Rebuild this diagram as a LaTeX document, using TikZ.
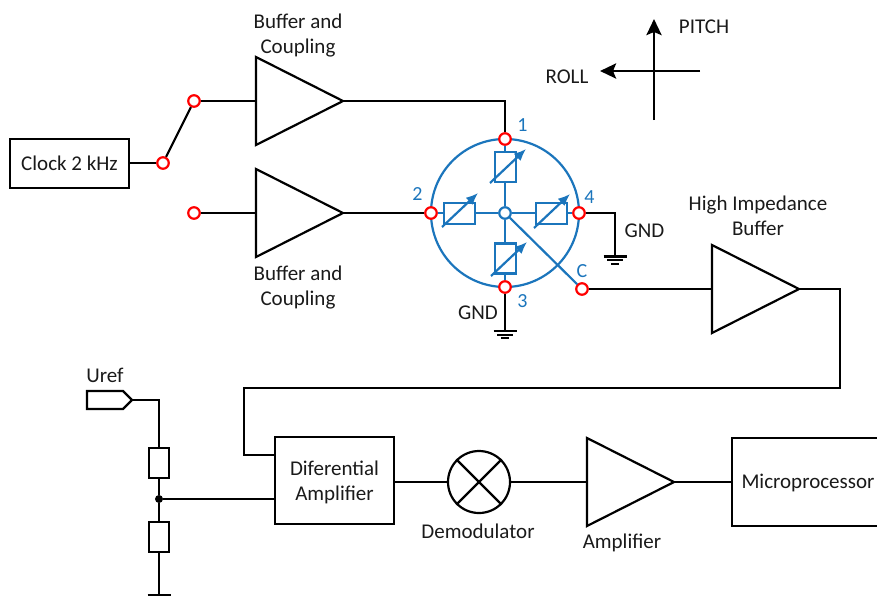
\documentclass[tikz,border=0pt]{standalone}
\usepackage{fontspec}
\setmainfont{Carlito}
\usetikzlibrary{arrows.meta}
\definecolor{sens}{HTML}{1B75BC}
\definecolor{txt}{HTML}{1A1A1A}
\tikzset{
  x=1pt,y=-1pt,
  wire/.style={draw=black,line width=2.2pt,line join=miter},
  swire/.style={draw=sens,line width=2.2pt},
  block/.style={draw=black,line width=2.2pt,fill=white,inner sep=0pt,rectangle,align=center,text=txt,font=\fontsize{21}{25}\selectfont},
  amptri/.style={draw=black,line width=2.2pt,fill=white,line join=miter},
  label/.style={inner sep=0pt,text=txt,align=center,font=\fontsize{21}{25}\selectfont},
  num/.style={inner sep=0pt,text=sens,font=\fontsize{20}{22}\selectfont},
  term/.style={circle,draw=red,fill=white,line width=2.2pt,inner sep=0pt,minimum size=11.5pt},
  cterm/.style={circle,draw=sens,fill=white,line width=2.2pt,inner sep=0pt,minimum size=11.5pt},
  res/.style={draw=black,line width=2.2pt,fill=white,inner sep=0pt,rectangle,minimum width=20pt,minimum height=30pt},
  sres/.style={draw=sens,line width=2.2pt,fill=white,inner sep=0pt,rectangle},
  varr/.style={draw=sens,line width=2.2pt,-{Latex[length=12pt,width=10pt]}},
  compass/.style={draw=black,line width=2.8pt,-{Stealth[length=16pt,width=15pt,inset=3pt]}},
  dot/.style={circle,fill=black,inner sep=0pt,minimum size=8pt},
}
% \ampl{name}{x of the input side}{y of the axis}
\newcommand{\ampl}[3]{%
  \draw[amptri] (#2,#3-44) -- (#2,#3+44) -- (#2+87,#3) -- cycle;
  \coordinate (#1in) at (#2,#3);
  \coordinate (#1out) at (#2+87,#3);
}
\newcommand{\gndsym}[1]{%
  \draw[wire] ([xshift=-11.5pt]#1) -- ([xshift=11.5pt]#1);
  \draw[wire] ([xshift=-8pt,yshift=-3.6pt]#1) -- ([xshift=8pt,yshift=-3.6pt]#1);
  \draw[wire] ([xshift=-4pt,yshift=-7.2pt]#1) -- ([xshift=4pt,yshift=-7.2pt]#1);
}
\begin{document}
\begin{tikzpicture}
\useasboundingbox (0,0) rectangle (877,598);

% clock and switch
\node[block,minimum width=119pt,minimum height=49pt] (clock) at (69.5,163.5) {Clock 2 kHz};
\node[term] (sw) at (163,163) {};
\node[term] (up) at (194,101) {};
\node[term] (lo) at (194,213) {};
\draw[wire] (clock.east |- sw) -- (sw);
\draw[wire] (sw) -- (up);

% buffers
\ampl{ba}{256}{101}
\ampl{bb}{256}{213}
\ampl{bc}{712}{289}
\ampl{bd}{587}{482}
\draw[wire] (up) -- (bain);
\draw[wire] (lo) -- (bbin);

% sensor
\node[circle,draw=sens,line width=2.2pt,minimum size=148pt,inner sep=0pt] (disc) at (505,213) {};
\node[sres,minimum width=21pt,minimum height=30pt] (r1) at (505.5,167) {};
\node[sres,minimum width=21pt,minimum height=30pt] (r3) at (505.5,258.5) {};
\node[sres,minimum width=31pt,minimum height=21pt] (r2) at (459.5,213.5) {};
\node[sres,minimum width=31pt,minimum height=21pt] (r4) at (551.5,213.5) {};
\node[cterm] (cc) at (505,213) {};
\node[term] (t1) at (505,139) {};
\node[term] (t2) at (431,213) {};
\node[term] (t3) at (505,287) {};
\node[term] (t4) at (579,213) {};
\node[term] (tc) at (582,289) {};
\draw[swire] (r1.south -| cc) -- (cc);
\draw[swire] (t1) -- (r1.north -| t1);
\draw[swire] (t3) -- (r3.south -| t3);
\draw[swire] (r3.north -| cc) -- (cc);
\draw[swire] (t2) -- (r2.west |- t2);
\draw[swire] (r2.east |- cc) -- (cc);
\draw[swire] (t4) -- (r4.east |- t4);
\draw[swire] (r4.west |- cc) -- (cc);
\draw[swire] (cc) -- (tc);
\draw[varr] (490,183) -- (526,149);
\draw[varr] (442,227) -- (478,193);
\draw[varr] (534,228) -- (570,194);
\draw[varr] (491,276) -- (527,242);

\node[num] (n1) at (522.5,125.5) {1};
\node[num] (n2) at (417.5,194) {2};
\node[num] (n3) at (522.5,301) {3};
\node[num] (n4) at (589.5,197) {4};
\node[num] (nc) at (582,271) {C};

% connections around the sensor
\coordinate (g4) at (615,256.5);
\coordinate (g3) at (505,331);
\draw[wire] (baout) -| (t1);
\draw[wire] (bbout) -- (t2);
\draw[wire] (t4) -| (g4);
\draw[wire] (t3) -- (g3);
\gndsym{g4}
\gndsym{g3}
\draw[wire] (tc) -- (bcin);

% lower chain
\node[block,minimum width=119pt,minimum height=87pt] (diff) at (334.5,480.5) {};
\node[label] (diffl) at (334.5,482.5) {Diferential\\Amplifier};
\node[circle,draw=black,line width=2.2pt,fill=white,minimum size=62pt,inner sep=0pt] (mix) at (479,482) {};
\draw[wire] (mix.45) -- (mix.225);
\draw[wire] (mix.135) -- (mix.315);
\node[block,minimum width=149pt,minimum height=88pt] (cpu) at (806.5,482) {};
\node[label] (cpul) at (808,483) {Microprocessor};
\draw[wire] (bcout) -- (840,289) -- (840,388) -- (244,388) -- (244,455) -- (diff.west |- 0,455);
\draw[wire] (diff.east |- mix.west) -- (mix.west);
\draw[wire] (mix.east) -- (bdin);
\draw[wire] (bdout) -- (cpu.west |- bdout);

% reference divider
\node[res] (ra) at (159,463) {};
\node[res] (rb) at (159,537) {};
\node[dot] (jn) at (159,499) {};
\coordinate (g5) at (159,595);
\draw[wire,line join=miter] (87,391) -- (123,391) -- (132,400) -- (123,409) -- (87,409) -- cycle;
\coordinate (uref) at (132,400);
\draw[wire] (uref) -| (ra.north);
\draw[wire] (ra.south) -- (jn);
\draw[wire] (jn) -- (rb.north);
\draw[wire] (rb.south) -- (g5);
\draw[wire] (jn) -- (diff.west |- jn);
\draw[wire] ([xshift=-11.5pt]g5) -- ([xshift=11.5pt]g5);

% compass
\coordinate (ps) at (654,120);
\coordinate (pe) at (654,19);
\coordinate (rs) at (700,71);
\coordinate (re) at (600,71);
\draw[compass] (ps) -- (pe);
\draw[compass] (rs) -- (re);

% labels
\node[label] (la) at (298,36) {Buffer and\\Coupling};
\node[label] (lb) at (298,287.5) {Buffer and\\Coupling};
\node[label] (lc) at (758,215.5) {High Impedance\\Buffer};
\node[label] (gnda) at (644.5,231) {GND};
\node[label] (gndb) at (478,313) {GND};
\node[label] (lu) at (105,375) {Uref};
\node[label] (ld) at (478,531) {Demodulator};
\node[label] (le) at (622,542.5) {Amplifier};
\node[label] (lp) at (704,27) {PITCH};
\node[label] (lr) at (567,77) {ROLL};
\end{tikzpicture}
\end{document}
